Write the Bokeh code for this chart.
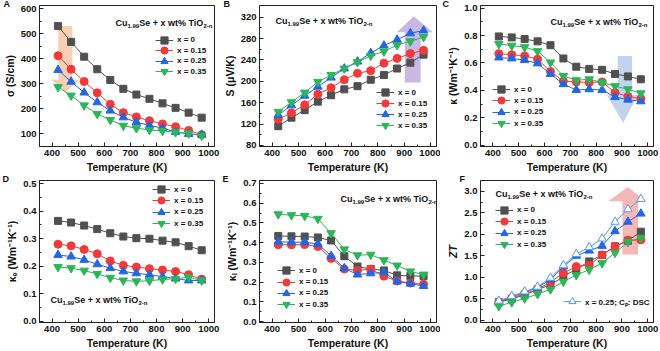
from bokeh.plotting import figure
from bokeh.layouts import gridplot
from bokeh.models import Label, Legend, LegendItem, FixedTicker, NumeralTickFormatter, Range1d, Title
from bokeh.embed import file_html
from bokeh.resources import INLINE

# ---------------- data ----------------
T = [423, 473, 523, 573, 623, 673, 723, 773, 823, 873, 923, 973]
series_names = ["x = 0", "x = 0.15", "x = 0.25", "x = 0.35"]

sigma_x0 = [530, 467, 408, 358, 315, 280, 257, 240, 222, 204, 185, 165]
sigma_x15 = [412, 358, 309, 264, 218, 185, 168, 153, 140, 129, 114, 97]
sigma_x25 = [355, 308, 265, 226, 193, 166, 147, 134, 123, 108, 100, 97]
sigma_x35 = [287, 253, 214, 180, 156, 133, 123, 116, 112, 107, 102, 93]

S_x0 = [116, 132, 146, 162, 174, 185, 191, 203, 212, 224, 235, 250]
S_x15 = [129, 141, 156, 176, 188, 203, 215, 220, 234, 243, 252, 258]
S_x25 = [137, 155, 173, 190, 207, 224, 237, 253, 267, 278, 290, 295]
S_x35 = [143, 161, 179, 199, 212, 224, 236, 248, 256, 268, 275, 283]

kappa_x0 = [0.794, 0.787, 0.775, 0.758, 0.730, 0.633, 0.573, 0.557, 0.550, 0.520, 0.502, 0.481]
kappa_x15 = [0.668, 0.661, 0.652, 0.628, 0.538, 0.467, 0.462, 0.457, 0.462, 0.384, 0.355, 0.339]
kappa_x25 = [0.640, 0.633, 0.621, 0.597, 0.520, 0.445, 0.403, 0.408, 0.403, 0.351, 0.332, 0.320]
kappa_x35 = [0.739, 0.727, 0.716, 0.687, 0.604, 0.505, 0.474, 0.481, 0.457, 0.431, 0.408, 0.379]

ke_x0 = [0.365, 0.359, 0.348, 0.335, 0.320, 0.308, 0.302, 0.300, 0.293, 0.287, 0.273, 0.258]
ke_x15 = [0.280, 0.274, 0.261, 0.245, 0.219, 0.203, 0.197, 0.191, 0.186, 0.181, 0.169, 0.153]
ke_x25 = [0.241, 0.235, 0.223, 0.207, 0.193, 0.181, 0.174, 0.169, 0.162, 0.155, 0.148, 0.148]
ke_x35 = [0.197, 0.193, 0.184, 0.172, 0.158, 0.148, 0.145, 0.147, 0.152, 0.154, 0.160, 0.148]

kl_x0 = [0.434, 0.432, 0.431, 0.426, 0.411, 0.331, 0.279, 0.266, 0.259, 0.234, 0.231, 0.230]
kl_x15 = [0.389, 0.389, 0.390, 0.380, 0.320, 0.266, 0.259, 0.266, 0.230, 0.205, 0.195, 0.189]
kl_x25 = [0.405, 0.402, 0.402, 0.393, 0.333, 0.270, 0.238, 0.244, 0.249, 0.203, 0.192, 0.180]
kl_x35 = [0.544, 0.539, 0.536, 0.521, 0.448, 0.366, 0.336, 0.339, 0.311, 0.284, 0.254, 0.238]

ZT_x0 = [0.42, 0.50, 0.59, 0.72, 0.82, 1.02, 1.19, 1.37, 1.52, 1.72, 1.85, 2.06]
ZT_x15 = [0.43, 0.52, 0.62, 0.72, 0.89, 1.10, 1.25, 1.28, 1.52, 1.72, 1.86, 1.87]
ZT_x25 = [0.43, 0.55, 0.65, 0.76, 0.95, 1.25, 1.50, 1.62, 1.73, 2.07, 2.29, 2.48]
ZT_x35 = [0.33, 0.42, 0.51, 0.61, 0.72, 0.90, 1.05, 1.18, 1.33, 1.57, 1.82, 1.92]
ZT_x25_DSC = [0.455, 0.56, 0.67, 0.78, 0.99, 1.28, 1.54, 1.70, 1.90, 2.29, 2.58, 2.82]
dsc_name = "x = 0.25; C\u209a: DSC"

x_ticks = [400, 500, 600, 700, 800, 900, 1000]

# ---------------- style ----------------
FONT = "Liberation Sans"
COLORS = ["#505050", "#F23A3A", "#2266E2", "#2CB55A"]
MARKERS = ["square", "circle", "triangle", "inverted_triangle"]
SIZES = [7, 8, 8.5, 8.5]
DSC_COLOR = "#5C9BE0"

CW = {"C": .722, "u": .611, "1": .556, ".": .278, "9": .556, "S": .667, "e": .556, " ": .278,
      "+": .584, "x": .556, "w": .778, "t": .333, "%": .889, "T": .611, "i": .278, "O": .778,
      "2": .556, "-": .333, "n": .611}


def tw(s, size):
    return sum(CW.get(c, .556) for c in s) * size


def formula(p, x, y):
    parts = [("Cu", 9, 0), ("1.99", 6, -3), ("Se + x wt% TiO", 9, 0), ("2-n", 6, -3)]
    off = 0
    for txt, sz, dy in parts:
        p.add_layout(Label(x=x + off, y=y + dy, x_units="screen", y_units="screen", text=txt,
                           text_font=FONT, text_font_style="bold", text_font_size=f"{sz}px",
                           text_baseline="middle", text_align="left", text_color="#111111"))
        off += tw(txt, sz)


def style_legend(leg):
    leg.background_fill_alpha = 0
    leg.border_line_alpha = 0
    leg.padding = 0
    leg.margin = 0
    leg.spacing = 0
    leg.glyph_width = 18
    leg.glyph_height = 18
    leg.label_height = 18
    leg.label_standoff = 4
    leg.label_text_font = FONT
    leg.label_text_font_style = "bold"
    leg.label_text_font_size = "8px"
    leg.label_text_color = "#111111"


def panel(letter, ylabel, yrange, yticks, fmt, ys, borders, height, legend_xy, pitch, note_xy,
          letter_dx, arrow=None, arrow_color=None, italic=False):
    left, right, top, bottom = borders
    p = figure(width=220, height=height, output_backend="svg", toolbar_location=None,
               x_range=Range1d(352, 1022), y_range=Range1d(*yrange),
               min_border_left=left, min_border_right=right, min_border_top=top,
               min_border_bottom=bottom)
    p.grid.visible = False
    p.outline_line_color = "#222222"
    p.outline_line_width = 1
    p.outline_line_alpha = 1
    p.background_fill_color = "white"
    p.border_fill_color = "white"

    yminor = [(a + b) / 2 for a, b in zip(yticks[:-1], yticks[1:])]
    xminor = [(a + b) / 2 for a, b in zip(x_ticks[:-1], x_ticks[1:])]
    p.xaxis.ticker = FixedTicker(ticks=x_ticks, minor_ticks=xminor)
    p.yaxis.ticker = FixedTicker(ticks=yticks, minor_ticks=yminor)
    if fmt:
        p.yaxis.formatter = NumeralTickFormatter(format=fmt)
    p.xaxis.axis_label = "Temperature (K)"
    p.yaxis.axis_label = ylabel
    for ax in (p.xaxis[0], p.yaxis[0]):
        ax.major_tick_in = 4
        ax.major_tick_out = 0
        ax.minor_tick_in = 2
        ax.minor_tick_out = 0
        ax.axis_line_color = "#222222"
        ax.major_tick_line_color = "#222222"
        ax.minor_tick_line_color = "#222222"
        ax.major_label_text_font = FONT
        ax.major_label_text_font_style = "bold"
        ax.major_label_text_font_size = "9.5px"
        ax.major_label_text_color = "#111111"
        ax.major_label_standoff = 3
        ax.axis_label_text_font = FONT
        ax.axis_label_text_font_style = "bold"
        ax.axis_label_text_font_size = "10.5px"
        ax.axis_label_text_color = "#111111"
        ax.axis_label_standoff = 2
    if italic:
        p.yaxis.axis_label_text_font_style = "bold italic"

    if arrow is not None:
        ax_, ay_ = arrow
        p.patch(ax_, ay_, fill_color=arrow_color, fill_alpha=0.55, line_color=None)

    n = len(series_names)
    for i, (name, vals, col, mk, sz) in enumerate(zip(series_names, ys, COLORS, MARKERS, SIZES)):
        l = p.line(T, vals, line_color=col, line_width=1)
        s = p.scatter(T, vals, marker=mk, size=sz, fill_color=col, line_color=col)
        leg = Legend(items=[LegendItem(label=name, renderers=[l, s])],
                     location=(legend_xy[0], legend_xy[1] + (n - 1 - i) * pitch))
        style_legend(leg)
        p.add_layout(leg)

    formula(p, *note_xy)
    t = Title(text=letter, align="left", offset=letter_dx, standoff=-7, text_font=FONT,
              text_font_style="bold", text_font_size="9px", text_color="#111111")
    p.add_layout(t, "above")
    return p


# arrows (data space)
arrow_A = ([424, 478, 478, 503, 450, 398, 424], [530, 530, 316, 316, 266, 316, 316])
arrow_B = ([902, 962, 962, 1008, 936, 872, 902], [198, 198, 292, 292, 322, 292, 292])
arrow_C = ([883, 939, 939, 962, 904, 841, 883], [0.652, 0.652, 0.367, 0.367, 0.161, 0.367, 0.367])
arrow_F = ([902, 962, 962, 993, 922, 847, 902], [1.53, 1.53, 2.77, 2.77, 3.10, 2.77, 2.77])

pA = panel("A", "\u03c3 (S/cm)", (50, 612), [100, 200, 300, 400, 500, 600], None,
           [sigma_x0, sigma_x15, sigma_x25, sigma_x35], (39, 6, 4, 28), 175,
           (116, 66), 10.5, (76, 124), -36, arrow_A, "#F3A772")
pB = panel("B", "S (\u03bcV/K)", (78, 342), [80, 120, 160, 200, 240, 280, 320], None,
           [S_x0, S_x15, S_x25, S_x35], (39, 3, 3, 26), 175,
           (117, 12), 11, (16, 126), -36, arrow_B, "#9C7ECB")
pC = panel("C", "\u03ba (Wm\u207b\u00b9K\u207b\u00b9)", (-0.01, 1.02), [0.0, 0.2, 0.4, 0.6, 0.8, 1.0], "0.0",
           [kappa_x0, kappa_x15, kappa_x25, kappa_x35], (40, 7, 3, 27), 175,
           (12, 14), 11.3, (70, 125), -38, arrow_C, "#8FAEE0")
pD = panel("D", "\u03ba\u2091 (Wm\u207b\u00b9K\u207b\u00b9)", (-0.005, 0.512), [0.0, 0.1, 0.2, 0.3, 0.4, 0.5], "0.0",
           [ke_x0, ke_x15, ke_x25, ke_x35], (39, 5, 3, 28), 176,
           (113, 90), 11.3, (11, 23), -37)
pE = panel("E", "\u03ba\u2097 (Wm\u207b\u00b9K\u207b\u00b9)", (-0.005, 0.715), [0.0, 0.1, 0.2, 0.3, 0.4, 0.5, 0.6, 0.7], "0.0",
           [kl_x0, kl_x15, kl_x25, kl_x35], (39, 4, 3, 27), 176,
           (18, 9), 11.2, (81, 124), -37)
pF = panel("F", "ZT", (-0.05, 3.25), [0.0, 0.5, 1.0, 1.5, 2.0, 2.5, 3.0], "0.0",
           [ZT_x0, ZT_x15, ZT_x25, ZT_x35], (36, 5, 4, 27), 176,
           (15, 69), 11.4, (15, 129), -21, arrow_F, "#F07C7C", italic=True)

# DSC series in F
lD = pF.line(T, ZT_x25_DSC, line_color=DSC_COLOR, line_width=1)
sD = pF.scatter(T, ZT_x25_DSC, marker="triangle", size=8.5, fill_color="white", line_color=DSC_COLOR, line_width=1)
legD = Legend(items=[LegendItem(label=dsc_name, renderers=[lD, sD])], location=(83, 12))
style_legend(legD)
pF.add_layout(legD)

grid = gridplot([[pA, pB, pC], [pD, pE, pF]], toolbar_location=None)
open("out.html", "w").write(file_html(grid, INLINE))
